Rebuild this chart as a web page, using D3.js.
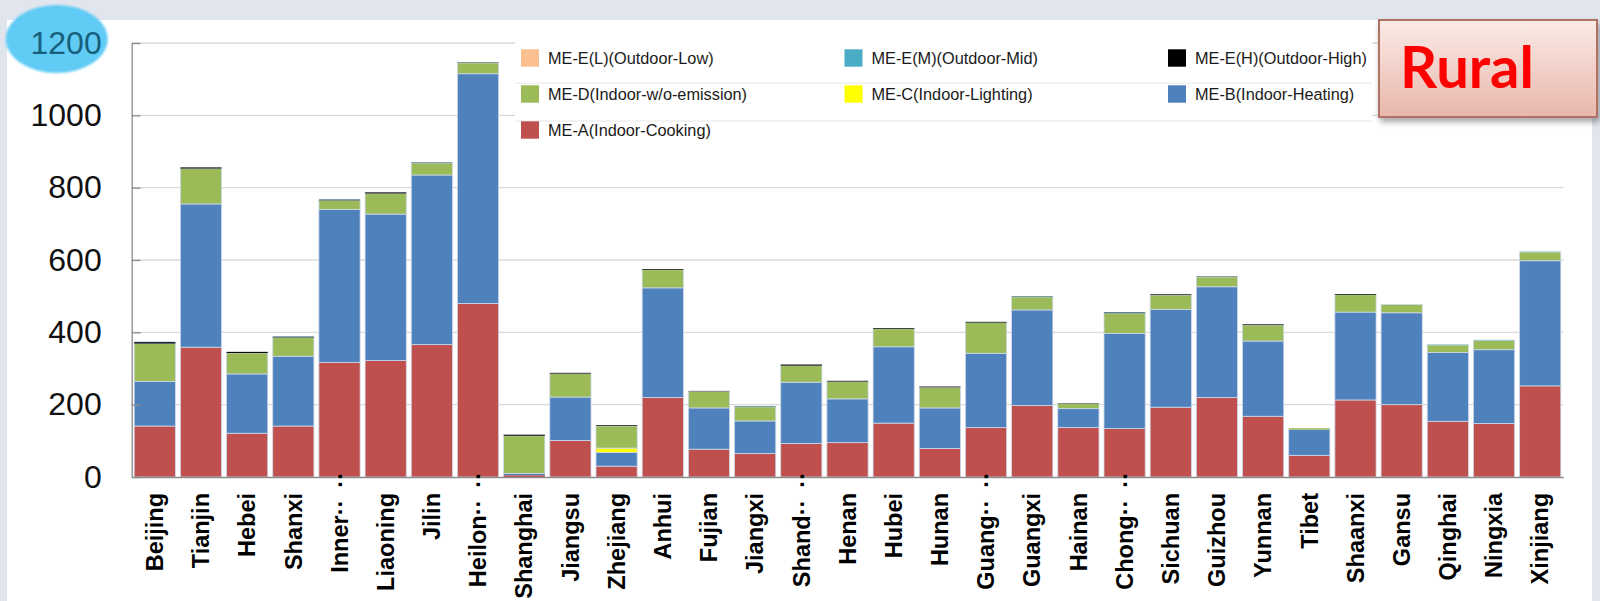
<!DOCTYPE html>
<html>
<head>
<meta charset="utf-8">
<script src="https://cdn.jsdelivr.net/npm/d3@7"></script>
<style>
  html, body { margin: 0; padding: 0; background: #e1e5ee; }
  svg { display: block; }
</style>
</head>
<body>
<svg id="chart" width="1600" height="601"></svg>
<script>
// Provinces along the x axis (long names are shortened with an ellipsis)
const provinces = ["Beijing","Tianjin","Hebei","Shanxi","Inner…","Liaoning","Jilin","Heilon…",
  "Shanghai","Jiangsu","Zhejiang","Anhui","Fujian","Jiangxi","Shand…","Henan","Hubei","Hunan",
  "Guang…","Guangxi","Hainan","Chong…","Sichuan","Guizhou","Yunnan","Tibet","Shaanxi","Gansu",
  "Qinghai","Ningxia","Xinjiang"];

// ME-A (Indoor-Cooking)
const cooking = [141,359,121,141,317,322,366,480,5,101,30,220,77,65,93,95,149,79,137,198,137,134,193,220,168,60,213,200,154,148,252];
// ME-B (Indoor-Heating)
const heating = [123,396,164,193,423,405,469,635,5,120,38,303,114,90,169,121,211,112,205,264,52,263,270,306,208,71,243,254,190,204,346];
// ME-C (Indoor-Lighting)
const lighting = [0,0,0,0,0,0,0,0,0,0,12,0,0,0,0,0,0,0,0,0,0,0,0,0,0,0,0,0,0,0,0];
// ME-D (Indoor-w/o-emission)
const noEmission = [105,98,58,52,25,57,33,30,104,65,61,50,46,39,46,48,50,57,85,36,14,56,40,27,44,4,48,23,21,26,24];
// ME-E(H) (Outdoor-High)
const outdoorHigh = [4,3,3,2,2,3,1,1,3,2,2,2,1,1,3,2,2,2,2,1,1,2,2,1,2,0,2,0,0,0,0];
// ME-E(M) (Outdoor-Mid)
const outdoorMid = [1,0,0,1,1,0,1,0,0,0,0,0,0,1,0,0,0,0,0,1,0,1,0,0,0,0,0,0,1,1,1];
// ME-E(L) (Outdoor-Low)
const outdoorLow = [0,0,0,0,0,0,0,0,0,0,0,0,0,0,0,0,0,0,0,0,0,0,0,0,0,0,0,0,0,0,0];

const yTicks = [0,200,400,600,800,1000,1200];

// stacking order from the ground up
const seriesKeys = ["A","B","C","D","EH","EM","EL"];
const seriesValues = {A: cooking, B: heating, C: lighting, D: noEmission, EH: outdoorHigh, EM: outdoorMid, EL: outdoorLow};
const seriesLabels = {
  EL: "ME-E(L)(Outdoor-Low)", EM: "ME-E(M)(Outdoor-Mid)", EH: "ME-E(H)(Outdoor-High)",
  D: "ME-D(Indoor-w/o-emission)", C: "ME-C(Indoor-Lighting)", B: "ME-B(Indoor-Heating)",
  A: "ME-A(Indoor-Cooking)"
};
const seriesColors = {A:"#c0504d", B:"#4f81bd", C:"#ffff00", D:"#9bbb59", EH:"#000000", EM:"#4bacc6", EL:"#fac090"};
const legendOrder = ["EL","EM","EH","D","C","B","A"];

const svg = d3.select("#chart");
const defs = svg.append("defs");

// page background and white panel
svg.append("rect").attr("width",1600).attr("height",601).attr("fill","#e1e5ee");
svg.append("rect").attr("x",7).attr("y",20).attr("width",1585).attr("height",581).attr("fill","#ffffff");

const plotLeft = 131.7, plotRight = 1563.3, plotTop = 43, plotBottom = 477;

const x = d3.scaleBand().domain(provinces).range([plotLeft, plotRight]).paddingInner(0.108).paddingOuter(0.054);
const y = d3.scaleLinear().domain([0,1200]).range([plotBottom, plotTop]);

// horizontal gridlines
svg.append("g").selectAll("line").data(yTicks.filter(t => t > 0)).join("line")
  .attr("x1", plotLeft).attr("x2", plotRight)
  .attr("y1", d => y(d)).attr("y2", d => y(d))
  .attr("stroke", "#dadada").attr("stroke-width", 1.3);

// stacked bars
const rows = provinces.map((p, i) => {
  const r = {province: p};
  seriesKeys.forEach(k => r[k] = seriesValues[k][i]);
  return r;
});
const stacked = d3.stack().keys(seriesKeys)(rows);

svg.append("g").selectAll("g").data(stacked).join("g")
  .attr("fill", d => seriesColors[d.key])
  .selectAll("rect").data(d => d).join("rect")
  .attr("x", d => x(d.data.province))
  .attr("width", x.bandwidth())
  .attr("y", d => y(d[1]))
  .attr("height", d => y(d[0]) - y(d[1]))
  .attr("stroke", d => (y(d[0]) - y(d[1])) > 2 ? "#cdd8ea" : "none")
  .attr("stroke-width", 0.8);

// y axis with inward ticks
const yAxis = svg.append("g")
  .attr("transform", `translate(${plotLeft},0)`)
  .call(d3.axisLeft(y).tickValues(yTicks).tickFormat(d3.format("d"))
    .tickSize(-9).tickSizeOuter(0).tickPadding(30));
yAxis.select(".domain").attr("stroke", "#8c8c8c").attr("stroke-width", 1.3);
yAxis.selectAll(".tick line").attr("stroke", "#8c8c8c").attr("stroke-width", 1.3);
yAxis.selectAll(".tick text")
  .attr("font-family", "'Liberation Sans', Arial, sans-serif")
  .attr("font-size", 32).attr("fill", "#111");

// highlight on the top tick label
const topTick = yAxis.selectAll(".tick").filter(d => d === 1200);
defs.append("filter").attr("id","soft").append("feGaussianBlur").attr("stdDeviation", 1.2);
topTick.insert("ellipse", "text")
  .attr("cx", -75).attr("cy", -4.5).attr("rx", 51).attr("ry", 34)
  .attr("fill", "#60cbf4").attr("filter","url(#soft)");
topTick.select("text").attr("fill", "#17607c");

// x axis
const xAxis = svg.append("g")
  .attr("transform", `translate(0,${plotBottom})`)
  .call(d3.axisBottom(x).tickSize(0).tickSizeOuter(0));
xAxis.select(".domain").attr("stroke", "#8c8c8c").attr("stroke-width", 1.3);
xAxis.selectAll(".tick text").each(function(d) {
  const t = d3.select(this);
  t.text(null)
    .attr("transform", "rotate(-90)")
    .attr("dy", "0.35em")
    .attr("text-anchor", "end")
    .attr("font-family", "'Liberation Sans', Arial, sans-serif")
    .attr("font-weight", "bold")
    .attr("font-size", 23.5)
    .attr("fill", "#000");
  if (d.endsWith("…")) {
    const base = d.slice(0, -1);
    t.attr("x", 5).attr("y", 0);
    t.append("tspan").text(base);
    t.append("tspan").text("··");
    t.append("tspan").attr("dx", 12).text("··");
  } else {
    t.attr("x", -16).attr("y", 0).text(d);
  }
});

// legend
const legend = svg.append("g");
legend.append("rect").attr("x", 515).attr("y", 40).attr("width", 857).attr("height", 102).attr("fill", "#fff");
legend.selectAll("line").data([83.3, 121]).join("line")
  .attr("x1", 515).attr("x2", 1372).attr("y1", d => d).attr("y2", d => d)
  .attr("stroke", "#efefef").attr("stroke-width", 1.5);
const items = legend.selectAll("g.item").data(legendOrder).join("g")
  .attr("class", "item")
  .attr("transform", (d, i) => `translate(${521 + (i % 3) * 323.5},${58 + Math.floor(i / 3) * 36})`);
items.append("rect").attr("x", 0).attr("y", -8.7).attr("width", 18).attr("height", 17.4)
  .attr("fill", d => seriesColors[d]);
items.append("text").attr("x", 27).attr("y", 0).attr("dy", "0.35em")
  .attr("font-family", "'Liberation Sans', Arial, sans-serif")
  .attr("font-size", 16.3).attr("fill", "#1a1a1a")
  .text(d => seriesLabels[d]);

// title box
const grad = defs.append("linearGradient").attr("id", "boxGrad").attr("x1", 0).attr("y1", 0).attr("x2", 0).attr("y2", 1);
grad.append("stop").attr("offset", "0%").attr("stop-color", "#fbebe7");
grad.append("stop").attr("offset", "100%").attr("stop-color", "#e8b7ab");
const shadow = defs.append("filter").attr("id", "shadow").attr("x", "-10%").attr("y", "-10%").attr("width", "130%").attr("height", "140%");
shadow.append("feDropShadow").attr("dx", 2).attr("dy", 4).attr("stdDeviation", 3).attr("flood-color", "#000").attr("flood-opacity", 0.35);
const titleBox = svg.append("g");
titleBox.append("rect").attr("x", 1379).attr("y", 20).attr("width", 218).attr("height", 97)
  .attr("fill", "url(#boxGrad)").attr("stroke", "#b07262").attr("stroke-width", 2)
  .attr("filter", "url(#shadow)");
titleBox.append("text").attr("x", 1400).attr("y", 88)
  .attr("font-family", "Lato, 'Open Sans', sans-serif").attr("font-weight", "bold")
  .attr("font-size", 58).attr("fill", "#ff0000").text("Rural");
</script>
</body>
</html>
